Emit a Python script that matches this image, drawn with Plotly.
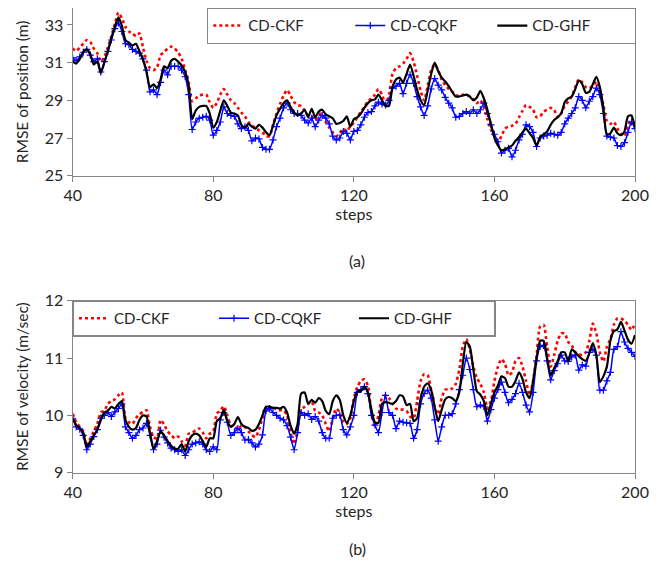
import plotly.graph_objects as go

steps = list(range(40, 201))

pos_ckf = [31.75, 31.6, 31.8, 32.0, 32.2, 32.1, 31.75, 31.5, 31.05, 31.3,
           31.8, 32.4, 33.05, 33.65, 33.35, 32.9, 32.65, 32.55, 32.4, 32.55,
           31.8, 31.1, 30.7, 30.6, 30.75, 31.4, 31.55, 31.75, 31.85, 31.75,
           31.55, 31.2, 30.6, 29.95, 28.95, 29.1, 29.25, 29.3, 29.3, 28.9,
           28.6, 28.85, 29.3, 29.6, 29.3, 29.0, 28.85, 28.6, 28.35, 28.15,
           27.85, 27.65, 27.55, 27.4, 27.3, 27.1, 27.1, 27.7, 28.3, 28.8,
           29.25, 29.55, 29.25, 28.9, 28.75, 28.7, 28.45, 28.2, 28.15, 27.95,
           28.25, 28.3, 27.85, 27.55, 27.3, 27.1, 27.25, 27.5, 27.35, 27.65,
           27.8, 28.1, 28.4, 28.65, 28.95, 29.1, 29.3, 29.6, 29.3, 28.8,
           29.3, 30.4, 30.7, 30.8, 30.95, 31.2, 31.5, 31.05, 30.3, 29.5,
           29.0, 29.75, 30.6, 30.9, 30.6, 30.1, 29.8, 29.6, 29.45, 29.3,
           29.2, 29.3, 29.3, 29.2, 29.05, 28.85, 29.0, 28.65, 28.0, 27.45,
           27.1, 26.8, 27.1, 27.5, 27.6, 27.65, 27.75, 28.1, 28.45, 28.75,
           28.65, 28.5, 28.1, 28.15, 28.4, 28.5, 28.6, 28.5, 28.1, 28.3,
           28.7, 28.95, 29.2, 29.7, 30.1, 29.95, 29.7, 29.65, 29.75, 30.0,
           29.5, 28.75, 27.9, 27.75, 27.85, 27.5, 27.25, 27.1, 27.65, 28.05, 27.5]

pos_cqkf = [31.25, 31.1, 31.3, 31.55, 31.7, 31.4, 31.05, 31.2, 30.5, 31.05,
            31.6, 32.2, 32.8, 33.1, 32.65, 32.0, 31.95, 31.7, 31.6, 31.5,
            31.2, 30.6, 29.45, 29.55, 29.3, 29.95, 30.6, 30.35, 30.8, 30.8,
            30.8, 30.6, 30.25, 29.3, 27.45, 27.85, 28.05, 28.1, 28.15, 27.95,
            27.15, 27.4, 27.85, 28.65, 28.3, 28.2, 28.15, 27.75, 27.5, 27.6,
            27.4, 26.85, 27.0, 26.95, 26.5, 26.4, 26.4, 26.9, 27.6, 28.05,
            28.6, 28.85, 28.5, 28.3, 28.3, 28.2, 27.95, 27.8, 28.05, 27.6,
            27.95, 28.2, 28.05, 27.75, 27.1, 26.9, 27.0, 27.35, 27.25, 26.9,
            27.35, 27.4, 27.7, 28.1, 28.35, 28.4, 28.7, 28.9, 28.8, 28.75,
            29.0, 29.65, 29.75, 29.9, 29.35, 29.9, 30.35, 29.9, 29.2, 28.65,
            28.2, 28.7, 29.6, 30.15, 29.8, 29.55, 29.15, 28.85, 28.6, 28.1,
            28.15, 28.3, 28.4, 28.3, 28.5, 28.3, 28.5, 28.85, 28.3, 27.7,
            27.2, 26.8, 26.2, 26.35, 26.45, 26.0, 26.35, 26.9, 27.2, 27.7,
            27.6, 27.3, 26.55, 27.0, 27.1, 27.15, 27.25, 27.2, 27.15, 27.3,
            27.75, 28.05, 28.3, 28.6, 29.2, 29.0, 28.6, 28.95, 29.2, 29.65,
            29.3, 28.3, 27.1, 27.05, 27.0, 26.6, 26.55, 26.75, 27.3, 27.85, 27.5]

pos_ghf = [31.05, 30.95, 31.2, 31.55, 31.7, 31.45, 30.9, 31.05, 30.45, 31.0,
           31.6, 32.3, 32.9, 33.4, 32.95, 32.2, 32.05, 31.9, 32.0, 31.6,
           31.15, 30.5, 29.7, 29.85, 29.65, 30.1, 30.8, 30.7, 31.1, 31.2,
           31.05, 30.85, 30.5, 29.8, 28.0, 28.45, 28.65, 28.7, 28.7, 28.3,
           27.55, 27.85, 28.45, 29.0, 28.7, 28.35, 28.3, 28.2, 27.7, 27.55,
           27.75, 27.6, 27.5, 27.7, 27.55, 27.3, 27.15, 27.65, 28.2, 28.55,
           28.85, 29.0, 28.65, 28.35, 28.2, 28.3, 28.5, 28.1, 28.55, 28.1,
           28.4, 28.5, 28.25, 28.15, 28.05, 27.75, 27.8, 27.9, 28.15, 27.6,
           28.0, 28.1, 28.3, 28.6, 28.85, 29.0, 29.05, 29.3, 29.0, 28.7,
           28.7, 29.7, 30.1, 30.2, 29.95, 30.4, 30.9, 30.3, 29.55, 29.0,
           28.75, 29.5, 30.4, 31.0, 30.55, 30.2, 30.0, 29.75, 29.45, 29.2,
           29.2, 29.25, 29.3, 29.2, 29.0, 29.15, 29.5, 29.1, 28.5, 27.75,
           27.0, 26.6, 26.35, 26.4, 26.5, 26.6, 26.85, 27.05, 27.3, 27.5,
           27.25, 27.0, 26.6, 27.05, 27.2, 27.35, 27.7, 27.95, 28.1, 28.3,
           28.9, 29.1, 29.2, 29.6, 30.05, 29.85, 29.4, 29.45, 29.85, 30.25,
           29.7, 28.6, 27.2, 27.25, 27.55, 27.25, 27.15, 27.35, 28.15, 28.2, 27.5]

vel_ckf = [10.03, 9.88, 9.8, 9.72, 9.47, 9.6, 9.72, 9.85, 10.05, 10.08,
           10.2, 10.25, 10.28, 10.35, 10.4, 9.95, 9.88, 9.85, 9.95, 10.02,
           10.06, 10.09, 9.8, 9.62, 9.6, 9.92, 9.84, 9.72, 9.66, 9.6,
           9.63, 9.55, 9.47, 9.68, 9.7, 9.74, 9.77, 9.7, 9.6, 9.68,
           9.72, 10.03, 10.08, 10.16, 10.0, 9.82, 9.82, 9.75, 9.82, 9.8,
           9.72, 9.66, 9.62, 9.75, 9.95, 10.1, 10.15, 10.14, 10.1, 10.09,
           10.09, 10.0, 9.7, 9.5, 9.75, 10.1, 10.15, 10.2, 10.24, 10.08,
           10.05, 10.0, 9.85, 9.72, 9.95, 10.12, 10.05, 9.88, 9.85, 9.95,
           10.3, 10.5, 10.6, 10.63, 10.52, 10.05, 9.8, 10.0, 10.3, 10.35,
           10.3, 10.2, 10.12, 10.1, 10.1, 10.08, 9.98, 9.95, 10.25, 10.6,
           10.72, 10.7, 10.45, 10.15, 10.02, 10.3, 10.45, 10.45, 10.47, 10.55,
           10.8, 11.2, 11.33, 11.15, 10.85, 10.65, 10.55, 10.4, 10.12, 10.25,
           10.6, 10.85, 10.98, 10.9, 10.7, 10.75, 10.95, 11.0, 10.85, 10.6,
           10.35, 10.6, 11.05, 11.55, 11.58, 11.2, 10.85, 11.05, 11.3, 11.43,
           11.43, 11.28, 11.22, 11.1, 11.07, 11.05, 11.1, 11.3, 11.6, 11.43,
           11.1, 10.94, 11.2, 11.33, 11.58, 11.69, 11.69, 11.65, 11.58, 11.49, 11.6]

vel_cqkf = [9.95, 9.8, 9.76, 9.65, 9.4, 9.5, 9.63, 9.75, 9.95, 10.0,
            10.05, 9.98, 10.06, 10.12, 10.2, 9.8, 9.7, 9.6, 9.65, 9.75,
            9.78, 9.86, 9.65, 9.4, 9.5, 9.74, 9.62, 9.52, 9.43, 9.4,
            9.37, 9.4, 9.3, 9.4, 9.5, 9.52, 9.54, 9.5, 9.4, 9.37,
            9.45, 9.4, 9.92, 10.05, 9.88, 9.65, 9.7, 9.77, 9.7, 9.57,
            9.58, 9.52, 9.45, 9.5, 9.66, 10.08, 10.12, 10.05, 10.0, 9.95,
            9.92, 9.82, 9.62, 9.4, 9.7, 10.05, 10.0, 10.03, 9.93, 9.98,
            9.9, 9.7, 9.6, 9.6, 9.95, 10.0, 10.0, 9.75, 9.66, 9.8,
            10.0, 10.4, 10.45, 10.5, 10.38, 10.0, 9.83, 9.7, 10.05, 10.35,
            10.05, 10.0, 9.77, 9.9, 9.88, 9.87, 9.86, 9.6, 9.75, 10.2,
            10.38, 10.44, 10.3, 9.92, 9.55, 9.8, 10.0, 10.0, 10.03, 10.2,
            10.45, 10.7, 11.0, 10.8, 10.45, 10.15, 10.18, 10.15, 9.9, 10.1,
            10.3, 10.45, 10.58, 10.4, 10.22, 10.28, 10.38, 10.56, 10.4, 10.18,
            10.06, 10.4, 10.95, 11.2, 11.22, 10.95, 10.62, 10.78, 10.9, 11.05,
            10.95, 10.94, 11.02, 11.05, 10.79, 10.88, 10.86, 11.1, 11.15, 11.05,
            10.44, 10.44, 10.6, 10.75, 11.15, 11.2, 11.46, 11.28, 11.17, 11.1, 11.03]

vel_ghf = [9.95, 9.83, 9.78, 9.7, 9.45, 9.55, 9.65, 9.75, 9.92, 10.05,
           10.08, 10.15, 10.12, 10.2, 10.25, 9.92, 9.8, 9.75, 9.78, 9.92,
           10.0, 9.98, 9.7, 9.42, 9.55, 9.72, 9.65, 9.55, 9.47, 9.42,
           9.42, 9.5, 9.37, 9.55, 9.65, 9.68, 9.65, 9.55, 9.45, 9.6,
           9.6, 9.9, 9.95, 10.1, 9.9, 9.8, 9.85, 9.97, 9.85, 9.8,
           9.78, 9.73, 9.75, 9.85, 10.0, 10.15, 10.15, 10.13, 10.13, 10.12,
           10.15, 10.05, 9.82, 9.68, 9.85, 10.38, 10.4, 10.2, 10.27, 10.22,
           10.3, 10.25, 10.08, 10.02, 10.25, 10.35, 10.27, 10.0, 9.87, 10.0,
           10.25, 10.42, 10.42, 10.5, 10.4, 10.1, 9.88, 9.87, 10.2, 10.23,
           10.22, 10.2, 10.25, 10.35, 10.33, 10.18, 10.2, 9.9, 9.95, 10.3,
           10.5, 10.56, 10.44, 10.15, 9.9, 10.1, 10.28, 10.32, 10.3, 10.25,
           10.4, 10.9, 11.28, 11.2, 10.8, 10.42, 10.36, 10.25, 10.0, 10.2,
           10.4, 10.52, 10.68, 10.65, 10.5, 10.5, 10.6, 10.75, 10.63, 10.4,
           10.3, 10.6, 11.0, 11.3, 11.3, 11.0, 10.7, 10.82, 10.95, 11.1,
           11.1, 10.95, 11.15, 11.1, 11.03, 10.98, 10.95, 11.08, 11.26, 11.05,
           10.58, 10.68, 10.85, 11.3, 11.47, 11.5, 11.63, 11.48, 11.32, 11.25, 11.4]

names = ["CD-CKF", "CD-CQKF", "CD-GHF"]
x_ticks = [40, 80, 120, 160, 200]
pos_ticks = [25, 27, 29, 31, 33]
vel_ticks = [9, 10, 11, 12]

FONT = "Lato, 'Open Sans', sans-serif"
TXT = "#262626"
AX = "#868686"

fig = go.Figure()


def add_group(ys, xa, ya, legend):
    red, blue, black = ys
    fig.add_trace(go.Scatter(x=steps, y=red, name=names[0], mode="lines",
                             line=dict(color="#FF0000", width=2.6, dash="dot", shape="spline", smoothing=0.6),
                             xaxis=xa, yaxis=ya, legend=legend))
    fig.add_trace(go.Scatter(x=steps, y=blue, name=names[1], mode="lines+markers",
                             line=dict(color="#0000FF", width=1.5, shape="spline", smoothing=0.6),
                             marker=dict(symbol="cross-thin", size=5, color="#0000FF",
                                         line=dict(width=1.2, color="#0000FF")),
                             xaxis=xa, yaxis=ya, legend=legend))
    fig.add_trace(go.Scatter(x=steps, y=black, name=names[2], mode="lines",
                             line=dict(color="#000000", width=2.2, shape="spline", smoothing=0.6),
                             xaxis=xa, yaxis=ya, legend=legend))


add_group([pos_ckf, pos_cqkf, pos_ghf], "x", "y", "legend")
add_group([vel_ckf, vel_cqkf, vel_ghf], "x2", "y2", "legend2")

# The page body adds an 8 px offset; size the figure so it fills the window exactly.
OFF = 8
W, H = 672 - OFF, 577 - OFF


def px(x):
    return (x - OFF) / W


def py(y):
    return min(1.0, max(0.0, 1 - (y - OFF) / H))


xd = [px(72.7), px(635)]
# top panel: 25 at y=175.7, 33 at y=24.9 -> top of panel (y=8) sits at ~33.84
pos_top = 25 + (175.7 - OFF) / ((175.7 - 24.9) / 8)

axis_common = dict(showline=True, linecolor=AX, linewidth=1.3, mirror=True,
                   ticks="outside", ticklen=5, tickcolor=AX, tickwidth=1.3,
                   showgrid=False, zeroline=False, automargin=False,
                   tickfont=dict(family=FONT, size=16, color=TXT))

ytitle_font = dict(family=FONT, size=15.5, color=TXT)
xtitle_font = dict(family=FONT, size=16, color=TXT)
leg_font = dict(family=FONT, size=15, color=TXT)

fig.update_layout(
    width=W, height=H,
    margin=dict(l=0, r=0, t=0, b=0, autoexpand=False),
    paper_bgcolor="white", plot_bgcolor="white",
    font=dict(family=FONT, size=15, color=TXT),
    xaxis=dict(domain=xd, range=[40, 200], tickvals=x_ticks, anchor="y",
               title=dict(text="steps", standoff=0, font=xtitle_font),
               **axis_common),
    yaxis=dict(domain=[py(175.7), 1.0], range=[25, pos_top], tickvals=pos_ticks, anchor="x",
               title=dict(text="RMSE of position (m)", standoff=12, font=ytitle_font),
               **axis_common),
    xaxis2=dict(domain=xd, range=[40, 200], tickvals=x_ticks, anchor="y2",
                title=dict(text="steps", standoff=0, font=xtitle_font),
                **axis_common),
    yaxis2=dict(domain=[py(472.7), py(300.7)], range=[9, 12], tickvals=vel_ticks, anchor="x2",
                title=dict(text="RMSE of velocity (m/sec)", standoff=12, font=ytitle_font),
                **axis_common),
    legend=dict(orientation="h", x=px(636), xanchor="right", y=1.0, yanchor="top",
                bgcolor="white", bordercolor=AX, borderwidth=1.3,
                entrywidth=97, entrywidthmode="pixels", font=leg_font),
    legend2=dict(orientation="h", x=px(72.7), xanchor="left", y=py(300.7), yanchor="top",
                 bgcolor="white", bordercolor=AX, borderwidth=1.3,
                 entrywidth=95, entrywidthmode="pixels", font=leg_font),
    annotations=[
        dict(text="(a)", x=px(357), y=py(260), xref="paper", yref="paper", showarrow=False,
             font=dict(family=FONT, size=16, color=TXT)),
        dict(text="(b)", x=px(357), y=py(560), xref="paper", yref="paper", showarrow=False,
             font=dict(family=FONT, size=16, color=TXT)),
    ],
)

fig.write_html("out.html")
